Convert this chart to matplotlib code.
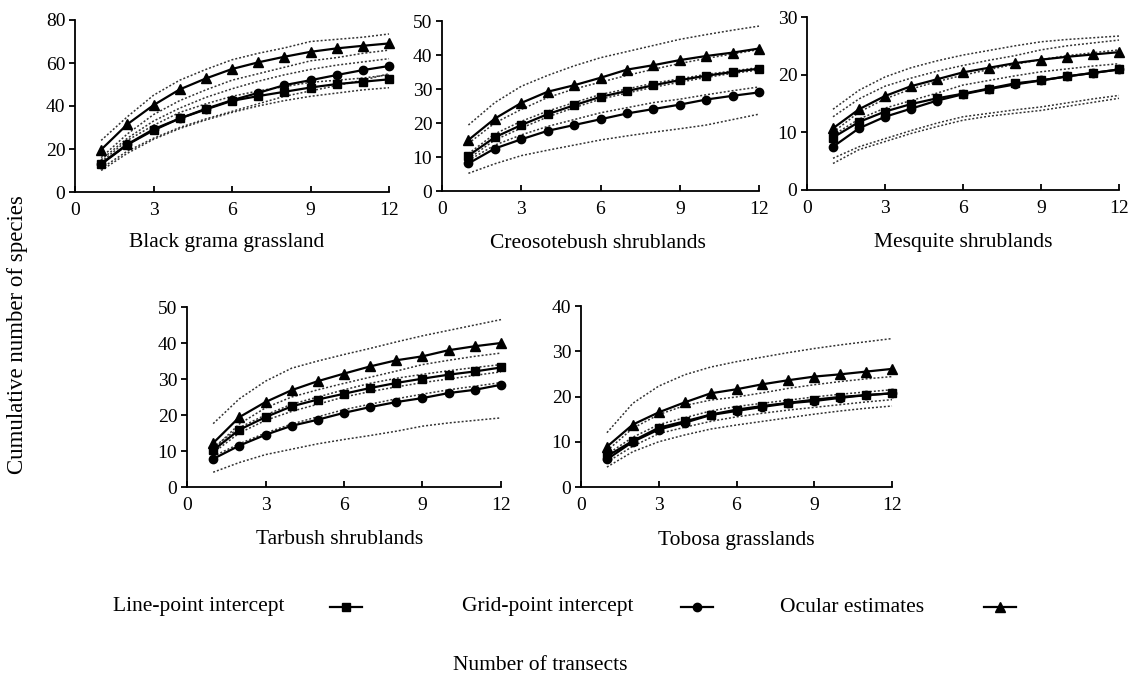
import matplotlib
matplotlib.use("Agg")
import matplotlib.pyplot as plt
from matplotlib.lines import Line2D

plt.rcParams['font.family'] = ['Liberation Serif', 'DejaVu Serif']

transects = list(range(1, 13))
xticks = [0, 3, 6, 9, 12]

titles = ["Black grama grassland", "Creosotebush shrublands", "Mesquite shrublands",
          "Tarbush shrublands", "Tobosa grasslands"]
ymax = [80, 50, 30, 50, 40]
ystep = [20, 10, 10, 10, 10]

# Line-point intercept (squares)
line_pt = [
    [12.9, 22.0, 28.7, 34.2, 38.4, 42.4, 44.6, 46.6, 48.6, 50.2, 51.3, 52.4],
    [10.4, 15.8, 19.4, 22.6, 25.2, 27.7, 29.4, 31.1, 32.6, 33.9, 35.0, 36.0],
    [9.1, 11.8, 13.6, 14.9, 15.9, 16.7, 17.6, 18.5, 19.0, 19.7, 20.3, 20.9],
    [10.2, 15.9, 19.4, 22.4, 24.3, 25.9, 27.5, 28.9, 30.1, 31.2, 32.1, 33.2],
    [6.8, 10.2, 13.1, 14.5, 16.0, 17.1, 17.9, 18.6, 19.3, 19.9, 20.3, 20.7],
]
# Grid-point intercept (circles)
grid_pt = [
    [13.2, 22.2, 29.2, 34.2, 38.7, 42.7, 46.1, 49.7, 52.0, 54.4, 56.7, 58.6],
    [8.1, 12.5, 15.2, 17.7, 19.4, 21.1, 22.8, 24.1, 25.4, 26.9, 28.0, 29.0],
    [7.5, 10.7, 12.7, 14.1, 15.5, 16.6, 17.5, 18.3, 19.0, 19.7, 20.3, 20.9],
    [7.8, 11.5, 14.5, 17.0, 18.7, 20.6, 22.2, 23.6, 24.7, 26.1, 27.0, 28.4],
    [6.1, 10.0, 12.7, 14.2, 15.9, 16.8, 17.7, 18.5, 19.0, 19.7, 20.3, 20.7],
]
# Ocular estimates (triangles)
ocular = [
    [19.7, 31.5, 40.4, 47.7, 52.8, 57.2, 60.3, 62.9, 65.2, 66.8, 68.0, 69.1],
    [15.0, 21.3, 25.9, 29.2, 31.1, 33.3, 35.7, 37.0, 38.5, 39.7, 40.7, 41.9],
    [10.7, 14.0, 16.3, 18.0, 19.2, 20.4, 21.2, 22.0, 22.6, 23.1, 23.5, 23.9],
    [12.2, 19.4, 23.6, 26.9, 29.4, 31.5, 33.5, 35.2, 36.3, 38.0, 39.1, 40.0],
    [8.9, 13.8, 16.5, 18.7, 20.7, 21.6, 22.7, 23.6, 24.4, 24.9, 25.5, 26.1],
]

# Confidence bounds (dotted lines), per panel: list of curves
bounds = [
    [  # Black grama
        [24, 35, 45, 52, 57, 61.5, 64.5, 67, 70, 71, 72, 73.5],
        [16, 27, 36, 42.5, 47.5, 52, 55, 58, 61, 62.5, 64.5, 66],
        [15, 25, 33, 39, 44, 48, 51.5, 54.5, 57, 59, 60.5, 62],
        [11, 19, 25, 30, 34, 37.5, 41, 44.5, 47, 49.5, 52, 55],
        [14, 24, 31, 37, 41, 44.5, 47, 49, 51, 52, 53, 54.5],
        [10, 18, 24.5, 29.5, 33.5, 37, 40, 42.5, 44.5, 46, 47.5, 48.5],
    ],
    [  # Creosotebush
        [19.4, 26, 30.8, 34, 36.8, 39.2, 41, 42.8, 44.6, 46, 47.3, 48.5],
        [14, 20, 24, 27.5, 30, 32, 34, 35.8, 37.5, 39, 40.3, 41.6],
        [11, 16.8, 20.5, 23.5, 26, 28.4, 30, 31.7, 33, 34.3, 35.3, 36.3],
        [9.5, 15, 18.5, 21.8, 24.5, 27, 28.8, 30.5, 32, 33.4, 34.6, 35.6],
        [9, 13.5, 16.5, 19, 21, 23, 24.5, 26, 27, 28.3, 29.5, 30.6],
        [5.2, 8, 10.4, 12, 13.5, 15, 16.2, 17.3, 18.3, 19.4, 21, 22.6],
    ],
    [  # Mesquite
        [14, 17.3, 19.6, 21.2, 22.4, 23.4, 24.2, 25, 25.7, 26.1, 26.4, 26.7],
        [12.7, 15.8, 18, 19.4, 20.6, 21.6, 22.5, 23.3, 24.3, 25, 25.5, 26],
        [10, 13.5, 15.8, 17.5, 18.8, 19.9, 20.9, 21.8, 22.6, 23.3, 23.8, 24.3],
        [9.5, 12.3, 14.2, 15.5, 16.8, 18.2, 19, 19.8, 20.5, 21, 21.5, 21.9],
        [5.5, 7.5, 8.9, 10.3, 11.6, 12.7, 13.3, 13.9, 14.4, 15.1, 15.8, 16.4],
        [4.6, 7, 8.4, 9.8, 11, 12.1, 12.8, 13.3, 13.8, 14.5, 15.2, 15.9],
    ],
    [  # Tarbush
        [17.6, 24.5, 29.4, 33, 35, 36.8, 38.5, 40.3, 42, 43.5, 45, 46.5],
        [10.5, 17.5, 22, 25, 27, 28.8, 30.5, 32.2, 34, 35.2, 36.3, 37.2],
        [11, 16.5, 20, 23, 25, 27, 28.8, 30.2, 31.3, 32.3, 33.2, 34],
        [9.5, 15, 18.5, 21, 23, 25, 26.5, 27.8, 29, 30, 31, 32],
        [8.5, 12, 15, 17.5, 19.5, 21.5, 23, 24.5, 25.8, 27, 28, 29],
        [4.1, 6.8, 9, 10.5, 12, 13.2, 14.3, 15.5, 16.9, 17.8, 18.5, 19.2],
    ],
    [  # Tobosa
        [12, 18.5, 22.3, 24.8, 26.5, 27.7, 28.7, 29.7, 30.6, 31.4, 32.1, 32.8],
        [8, 13, 16, 18, 19.2, 19.9, 20.8, 21.8, 22.6, 23.3, 23.9, 24.4],
        [7.2, 11, 13.8, 15.3, 16.8, 17.8, 18.5, 19.2, 19.9, 20.5, 21, 21.5],
        [5.5, 9, 11.8, 13.2, 14.5, 15.5, 16.3, 17, 17.6, 18.2, 18.8, 19.3],
        [4.4, 7.8, 10, 11.5, 12.8, 13.7, 14.5, 15.3, 16.1, 16.8, 17.4, 17.9],
    ],
]

W, H = 1131, 677
fig = plt.figure(figsize=(W / 100, H / 100), dpi=100)

# axes rectangles in pixel coords: left, right, top, bottom
rects = [
    (75, 389, 20, 192),
    (442, 759, 21, 191),
    (807, 1119, 17, 190),
    (187, 501, 307, 487),
    (581, 892, 306, 487),
]
title_pos = [(227, 243), (598, 243), (963, 243), (340, 540), (736, 540)]

FS = 15.5
TFS = 14
for i in range(5):
    l, r, t, b = rects[i]
    ax = fig.add_axes([l / W, 1 - b / H, (r - l) / W, (b - t) / H])
    for c in bounds[i]:
        ax.plot(transects, c, linestyle=(0, (1.3, 1.3)), lw=1.1, color='#333333')
    ax.plot(transects, line_pt[i], '-s', color='black', lw=1.6, ms=6)
    ax.plot(transects, grid_pt[i], '-o', color='black', lw=1.6, ms=6)
    ax.plot(transects, ocular[i], '-^', color='black', lw=1.6, ms=7)
    ax.set_xlim(0, 12)
    ax.set_ylim(0, ymax[i])
    ax.set_xticks(xticks)
    ax.set_yticks(list(range(0, ymax[i] + 1, ystep[i])))
    ax.spines['top'].set_visible(False)
    ax.spines['right'].set_visible(False)
    ax.spines['left'].set_linewidth(1.3)
    ax.spines['bottom'].set_linewidth(1.3)
    ax.tick_params(axis='x', direction='in', length=4, width=1.3, pad=7, labelsize=TFS)
    ax.tick_params(axis='y', direction='out', length=4, width=1.3, pad=3, labelsize=TFS)
    for ln in ax.lines:
        ln.set_clip_on(False)
    tx, ty = title_pos[i]
    fig.text(tx / W, 1 - ty / H, titles[i], ha='center', va='center', fontsize=FS)

fig.text(18 / W, 1 - 335 / H, "Cumulative number of species", rotation=90,
         ha='center', va='center', fontsize=16.5)

legend_items = [
    ("Line-point intercept", 113, 346, 's', 6),
    ("Grid-point intercept", 462, 697, 'o', 6),
    ("Ocular estimates", 780, 1000, '^', 7),
]
ly = 607
for label, tx, mx, mk, ms in legend_items:
    fig.text(tx / W, 1 - ly / H, label, ha='left', va='center', fontsize=FS)
    fig.add_artist(Line2D([(mx - 16) / W, (mx + 16) / W], [1 - ly / H, 1 - ly / H],
                          color='black', lw=1.6, transform=fig.transFigure))
    fig.add_artist(Line2D([mx / W], [1 - ly / H], marker=mk, ms=ms, color='black',
                          transform=fig.transFigure))

fig.text(540 / W, 1 - 665 / H, "Number of transects", ha='center', va='center',
         fontsize=FS)

fig.savefig("out.png", dpi=100)
